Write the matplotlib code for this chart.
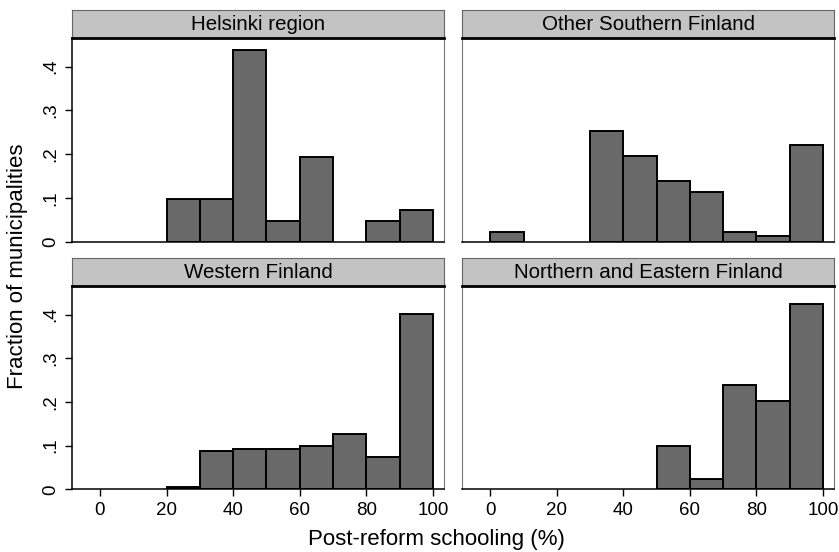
import matplotlib
matplotlib.use('Agg')
import matplotlib.pyplot as plt
import numpy as np

regions = ['Helsinki region', 'Other Southern Finland',
           'Western Finland', 'Northern and Eastern Finland']
bin_edges = [0, 10, 20, 30, 40, 50, 60, 70, 80, 90]
helsinki = [0, 0, 0.0976, 0.0976, 0.439, 0.0488, 0.195, 0, 0.0488, 0.0732]
other_south = [0.022, 0, 0, 0.254, 0.197, 0.139, 0.113, 0.022, 0.014, 0.221]
western = [0, 0, 0.0045, 0.087, 0.093, 0.093, 0.099, 0.127, 0.073, 0.402]
north_east = [0, 0, 0, 0, 0, 0.099, 0.023, 0.239, 0.201, 0.424]
heights = [helsinki, other_south, western, north_east]
xticks = [0, 20, 40, 60, 80, 100]
yticks = [0, 0.1, 0.2, 0.3, 0.4]

plt.rcParams['font.family'] = ['Liberation Sans', 'DejaVu Sans']

W, H = 839, 552
fig = plt.figure(figsize=(W / 100, H / 100), dpi=100)

# pixel boxes of the plot areas
cols = [(72, 444), (462.3, 834)]
rows = [(37.7, 242), (285.7, 489.3)]
strip_h = 27.5

def ylab(v):
    return '0' if v == 0 else f'{v:.1f}'.lstrip('0')

for i, name in enumerate(regions):
    r, c = divmod(i, 2)
    x0, x1 = cols[c]
    y0, y1 = rows[r]
    ax = fig.add_axes([x0 / W, 1 - y1 / H, (x1 - x0) / W, (y1 - y0) / H])
    # empty bins are not drawn
    xs = [e for e, h in zip(bin_edges, heights[i]) if h > 0]
    hs = [h for h in heights[i] if h > 0]
    ax.bar(xs, hs, width=10, align='edge',
           color='#696969', edgecolor='black', linewidth=1.4, zorder=3)
    ax.set_xlim(-8.4, 103.3)
    ax.set_ylim(0, 0.466)
    for s in ['top', 'right']:
        ax.spines[s].set_color('#777777')
        ax.spines[s].set_linewidth(0.8)
    ax.spines['bottom'].set_color('black')
    ax.spines['bottom'].set_linewidth(1.1)
    ax.spines['bottom'].set_zorder(4)
    if c == 0:
        ax.set_yticks(yticks)
        ax.set_yticklabels([ylab(v) for v in yticks], rotation=90, va='center')
        ax.spines['left'].set_color('black')
        ax.spines['left'].set_linewidth(1.1)
    else:
        ax.set_yticks([])
        ax.spines['left'].set_color('#777777')
        ax.spines['left'].set_linewidth(0.8)
    if r == 1:
        ax.set_xticks(xticks)
    else:
        ax.set_xticks([])
    ax.tick_params(axis='both', labelsize=13.5, length=5, width=1, color='black', pad=4)

    sx = fig.add_axes([x0 / W, 1 - y0 / H, (x1 - x0) / W, strip_h / H])
    sx.set_facecolor('#c3c3c3')
    sx.set_xticks([])
    sx.set_yticks([])
    for s in ['top', 'left', 'right']:
        sx.spines[s].set_color('#666666')
        sx.spines[s].set_linewidth(0.8)
    sx.spines['bottom'].set_color('black')
    sx.spines['bottom'].set_linewidth(2)
    sx.text(0.5, 0.47, name, ha='center', va='center', fontsize=14.8,
            transform=sx.transAxes)

fig.text(18 / W, 1 - 266 / H, 'Fraction of municipalities', rotation=90,
         ha='center', va='center', fontsize=16)
fig.text(436 / W, 1 - 540 / H, 'Post-reform schooling (%)', ha='center',
         va='center', fontsize=16)

fig.savefig('out.png', dpi=100, facecolor='white')
